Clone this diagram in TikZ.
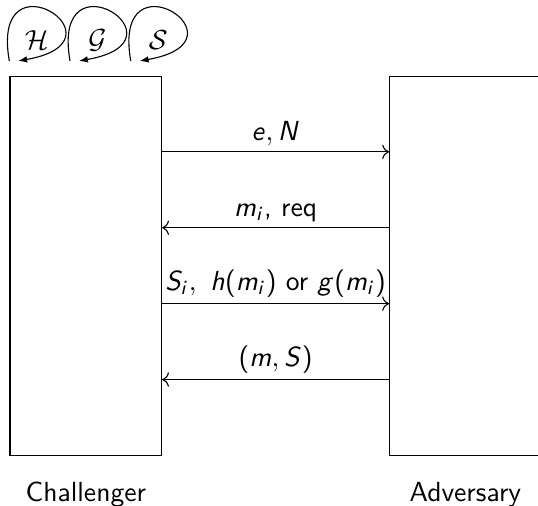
\documentclass[tikz,border=0pt]{standalone}
\usepackage{tikz}
\usetikzlibrary{arrows.meta, positioning}
\renewcommand{\familydefault}{\sfdefault}
\DeclareMathAlphabet{\mathsi}{OT1}{cmss}{m}{sl}
\SetSymbolFont{operators}{normal}{OT1}{cmss}{m}{n}

\begin{document}
\begin{tikzpicture}[
    party/.style={draw, rectangle, minimum width=54.9pt, minimum height=137.3pt, inner sep=0pt},
    msg/.style={->},
    lbl/.style={above, inner sep=2pt},
    loopy/.style={-{Latex[length=3.2pt, width=2.4pt]}}
]
\useasboundingbox (0,0) rectangle (194.9pt,-183pt);

\node[party, anchor=north west] (chal) at (3.44pt,-27.5pt) {};
\node[party, right=82.2pt of chal] (adv) {};
\node (chalname) [below=6pt of chal] {Challenger};
\node (advname) [below=6pt of adv] {Adversary};

% oracles
\foreach \sym [count=\i from 0] in {H, G, S} {
  \coordinate (\sym-out) at ([shift={(\i*22pt-0.07pt, 5.43pt)}]chal.north west);
  \coordinate (\sym-in) at ([shift={(\i*22pt+3.19pt, 5.43pt)}]chal.north west);
  \node (\sym-lbl) at ([shift={(\i*22pt+9.85pt, 13.04pt)}]chal.north west) {$\mathcal{\sym}$};
  \draw[loopy] (\sym-out) to[out=100, in=10, out distance=41pt, in distance=42pt] (\sym-in);
}

% messages
\draw[msg] ([yshift=-27.5pt]chal.north east) -- node[lbl] (m1) {$\mathsi{e, N}$} ([yshift=-27.5pt]adv.north west);
\draw[msg] ([yshift=-55pt]adv.north west) -- node[lbl] (m2) {$\mathsi{m_i}$, req} ([yshift=-55pt]chal.north east);
\draw[msg] ([yshift=-82.5pt]chal.north east) -- node[lbl] (m3) {$\mathsi{S_i,\ h(m_i)}$ or $\mathsi{g(m_i)}$} ([yshift=-82.5pt]adv.north west);
\draw[msg] ([yshift=-110pt]adv.north west) -- node[lbl] (m4) {$(\mathsi{m, S})$} ([yshift=-110pt]chal.north east);

\end{tikzpicture}
\end{document}
